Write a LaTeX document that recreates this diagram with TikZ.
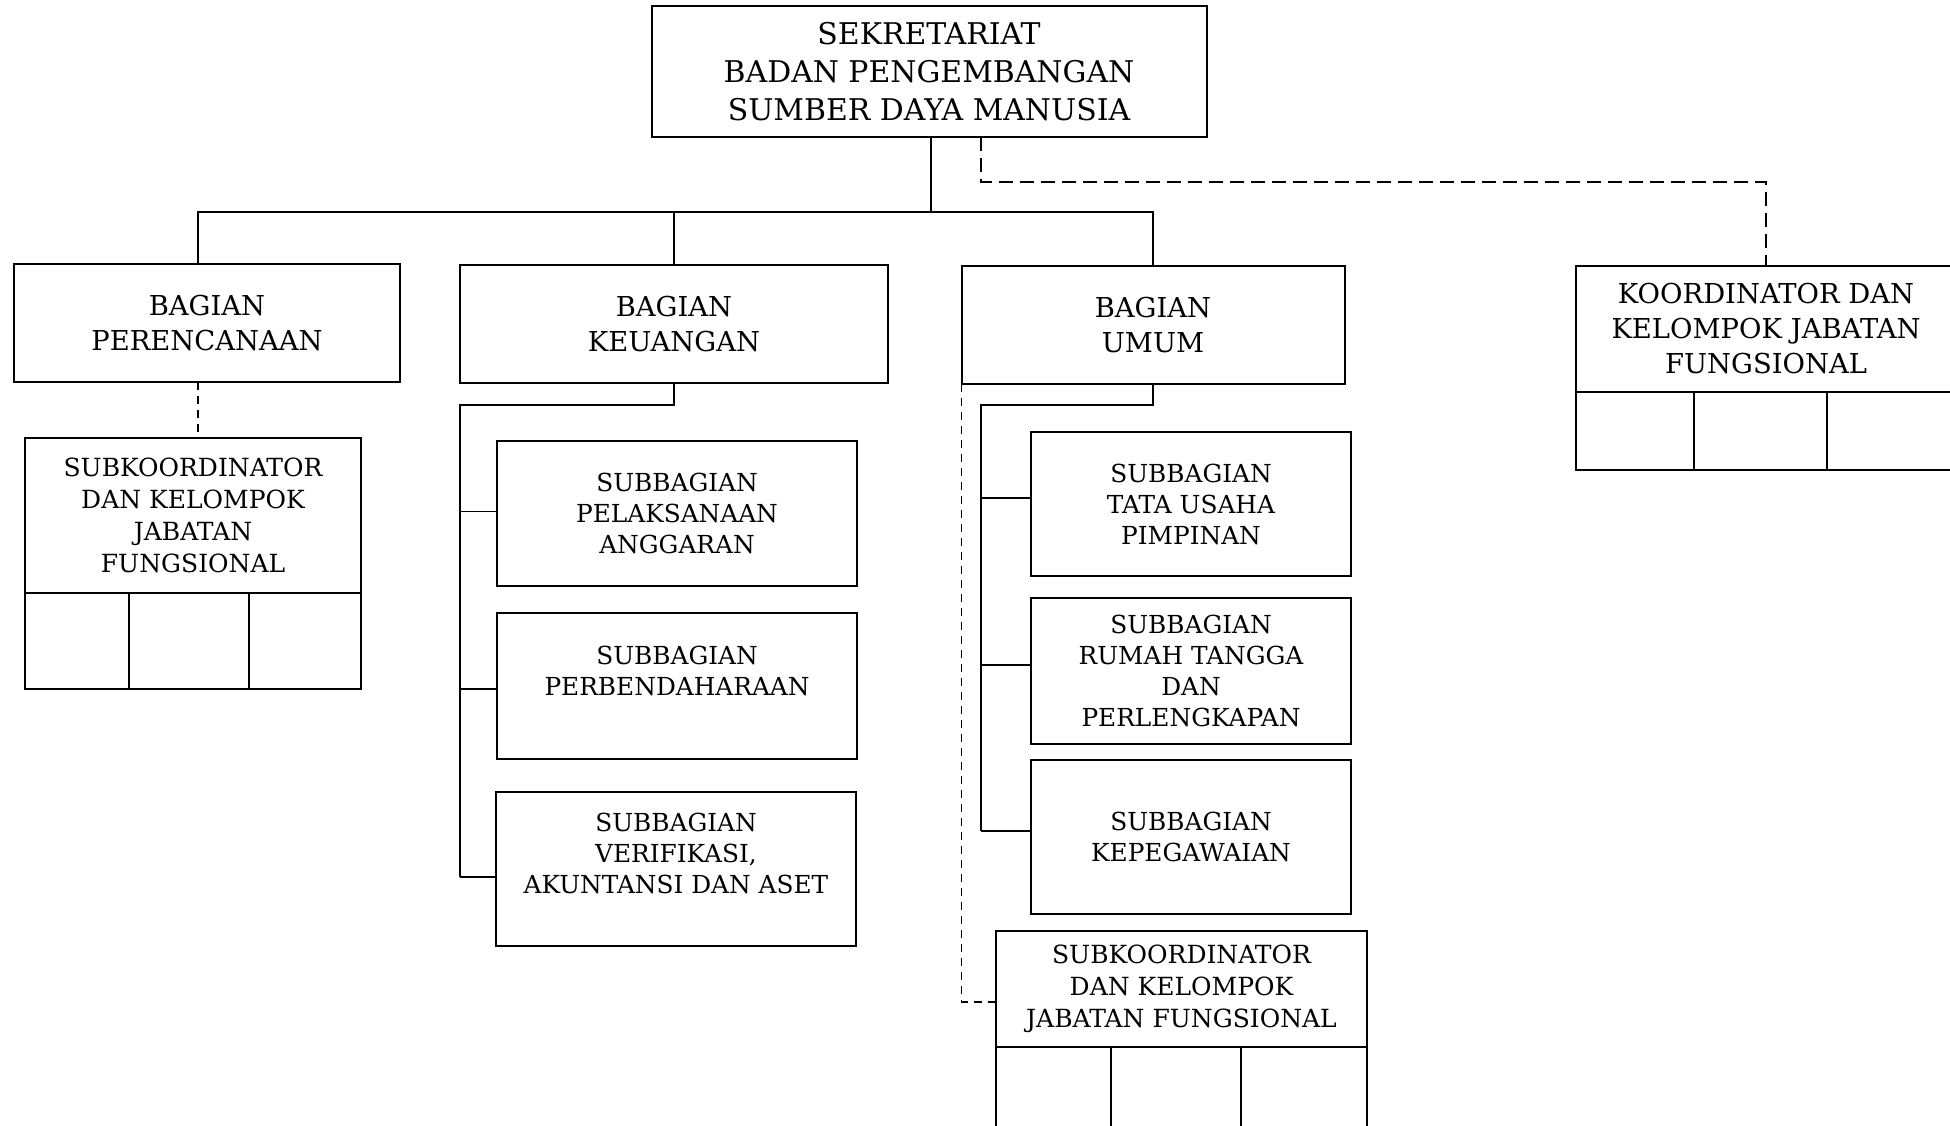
\documentclass[tikz,border=0pt]{standalone}
\usepackage{fontspec}
\setmainfont{DejaVu Serif}
\usetikzlibrary{positioning}

\begin{document}
\begin{tikzpicture}[x=1pt, y=-1pt,
    box/.style={draw, line width=2pt, align=center, inner sep=0pt, outer sep=0pt},
    headbox/.style={box, font=\fontsize{29.9}{38}\selectfont},
    bagbox/.style={box, font=\fontsize{27.4}{35}\selectfont},
    subbox/.style={box, font=\fontsize{24.8}{31}\selectfont},
    jfbox/.style={box, font=\fontsize{25}{32}\selectfont},
    cellbox/.style={draw, line width=2pt, inner sep=0pt, outer sep=0pt, anchor=north west},
    link/.style={line width=1.8pt},
    dashlink/.style={line width=1.8pt, dash pattern=on 14pt off 7pt},
    dotlink/.style={line width=1.6pt, dash pattern=on 8pt off 6pt}]
  \useasboundingbox (0,0) rectangle (1950,1125);
  \clip (0,0) rectangle (1950,1125);
  % Sekretariat
  \node[headbox, minimum width=555pt, minimum height=131pt] (sek) at (929,71.5)
    {SEKRETARIAT\\BADAN PENGEMBANGAN\\SUMBER DAYA MANUSIA};
  % Bagian
  \node[bagbox, minimum width=386pt, minimum height=118pt] (pr) at (207,323) {BAGIAN\\PERENCANAAN};
  \node[bagbox, minimum width=428pt, minimum height=118pt] (keu) at (674,324) {BAGIAN\\KEUANGAN};
  \node[bagbox, minimum width=383pt, minimum height=118pt] (umum) at (1153,325) {BAGIAN\\UMUM};
  % Koordinator (cut off at the right edge)
  \node[bagbox, minimum width=380pt, minimum height=126pt] (kor) at (1766,329)
    {KOORDINATOR DAN\\KELOMPOK JABATAN\\FUNGSIONAL};
  \node[cellbox, minimum width=118pt, minimum height=78pt] (kor1) at (kor.south west) {};
  \node[cellbox, minimum width=133pt, minimum height=78pt] (kor2) at (kor1.north east) {};
  \node[cellbox, minimum width=129pt, minimum height=78pt] (kor3) at (kor2.north east) {};
  % Subkoordinator perencanaan
  \node[jfbox, minimum width=336pt, minimum height=155pt] (skl) at (193,515.5)
    {SUBKOORDINATOR\\DAN KELOMPOK\\JABATAN\\FUNGSIONAL};
  \node[cellbox, minimum width=104pt, minimum height=96pt] (skl1) at (skl.south west) {};
  \node[cellbox, minimum width=120pt, minimum height=96pt] (skl2) at (skl1.north east) {};
  \node[cellbox, minimum width=112pt, minimum height=96pt] (skl3) at (skl2.north east) {};
  % Subbagian keuangan
  \node[subbox, minimum width=360pt, minimum height=145pt] (pa) at (677,513.5)
    {SUBBAGIAN\\PELAKSANAAN\\ANGGARAN};
  \node[subbox, minimum width=360pt, minimum height=146pt] (pb) at (677,686)
    {SUBBAGIAN\\PERBENDAHARAAN\\\mbox{}};
  \node[subbox, minimum width=360pt, minimum height=154pt] (va) at (676,869)
    {SUBBAGIAN\\VERIFIKASI,\\AKUNTANSI DAN ASET\\\mbox{}};
  % Subbagian umum
  \node[subbox, minimum width=320pt, minimum height=144pt] (tu) at (1191,504)
    {SUBBAGIAN\\TATA USAHA\\PIMPINAN};
  \node[subbox, minimum width=320pt, minimum height=146pt] (rt) at (1191,671)
    {SUBBAGIAN\\RUMAH TANGGA\\DAN\\PERLENGKAPAN};
  \node[subbox, minimum width=320pt, minimum height=154pt] (kep) at (1191,837)
    {SUBBAGIAN\\KEPEGAWAIAN};
  % Subkoordinator umum (cut off at the bottom)
  \node[jfbox, minimum width=371pt, minimum height=116pt] (skb) at (1181.5,989)
    {SUBKOORDINATOR\\DAN KELOMPOK\\JABATAN FUNGSIONAL};
  \node[cellbox, minimum width=115pt, minimum height=100pt] (skb1) at (skb.south west) {};
  \node[cellbox, minimum width=130pt, minimum height=100pt] (skb2) at (skb1.north east) {};
  \node[cellbox, minimum width=126pt, minimum height=100pt] (skb3) at (skb2.north east) {};
  % Garis komando
  \coordinate (busL) at (198,212);
  \coordinate (busR) at (1153,212);
  \draw[link] ([xshift=2pt]sek.south) -- ([xshift=2pt]sek.south |- busL);
  \draw[link] (busL |- pr.north) -- (busL) -- (busR) -- (umum.north);
  \draw[link] (keu.north) -- (keu.north |- busL);
  % Keuangan
  \coordinate (keuL) at (460,405);
  \draw[link] (keu.south) -- (keu.south |- keuL) -- (keuL) -- ([yshift=-8pt]keuL |- va.west);
  \foreach \b/\s in {pa/2,pb/-3,va/-8}
    \draw[link] ([yshift=\s pt]keuL |- \b.west) -- ([yshift=\s pt]\b.west);
  % Umum
  \coordinate (umL) at (981,405);
  \draw[link] (umum.south) -- (umum.south |- umL) -- (umL) -- ([yshift=6pt]umL |- kep.west);
  \foreach \b in {tu,rt,kep}
    \draw[link] ([yshift=6pt]umL |- \b.west) -- ([yshift=6pt]\b.west);
  % Garis koordinasi
  \draw[dashlink] ([xshift=52pt]sek.south) -- ++(0,45) -| (kor.north);
  \draw[dotlink] (busL |- pr.south) -- (busL |- skl.north);
  \draw[dotlink] (umum.south west) -- ([yshift=-13pt]umum.south west |- skb.west) -- ([yshift=-13pt]skb.west);
\end{tikzpicture}
\end{document}
